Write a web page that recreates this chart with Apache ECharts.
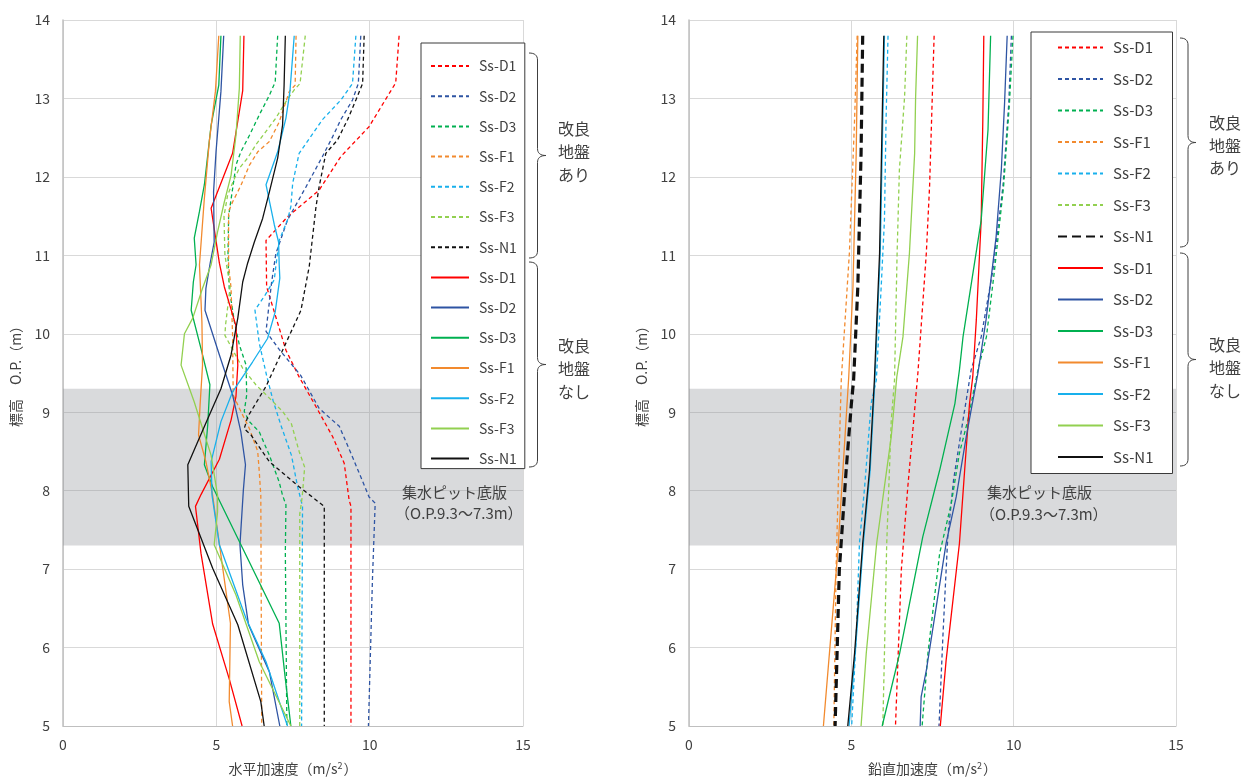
<!DOCTYPE html>
<html><head><meta charset="utf-8">
<script src="https://cdn.jsdelivr.net/npm/echarts/dist/echarts.min.js"></script>
<style>html,body{margin:0;padding:0;background:#fff}#c{width:1258px;height:780px}</style>
</head><body><div id="c"></div>
<script>
// ---------- axis ticks ----------
const xTicks = [0, 5, 10, 15];
const yTicks = [5, 6, 7, 8, 9, 10, 11, 12, 13, 14];
const bandRange = [9.3, 7.3]; // 集水ピット底版 O.P.

// ---------- 水平加速度 (left)  [acc, O.P.] ----------
// 改良地盤あり (dashed)
const hD1a = [[10.96,13.8],[10.85,13.2],[9.98,12.64],[9.06,12.26],[8.35,11.83],[7.32,11.49],[6.62,11.19],[6.64,10.6],[7.27,9.79],[7.70,9.45],[8.25,9.07],[8.79,8.69],[9.17,8.35],[9.33,7.88],[9.39,7.8],[9.39,5.0]];
const hD2a = [[9.71,13.8],[9.63,13.19],[9.44,12.98],[9.06,12.73],[8.79,12.51],[8.46,12.26],[7.92,11.87],[7.32,11.45],[6.94,11.02],[6.80,10.65],[6.62,10.03],[7.05,9.8],[7.75,9.47],[8.35,9.05],[9.01,8.82],[9.44,8.43],[9.98,7.92],[10.18,7.84],[10.09,6.86],[9.96,5.0]];
const hD3a = [[7.00,13.8],[6.92,13.21],[6.73,13.04],[6.40,12.79],[6.08,12.53],[5.80,12.32],[5.64,12.15],[5.55,11.9],[5.40,11.5],[5.38,11.0],[5.42,10.58],[5.59,10.15],[5.75,9.86],[5.97,9.6],[5.99,9.22],[5.91,9.01],[6.08,8.88],[6.40,8.75],[6.73,8.45],[7.05,8.11],[7.16,7.94],[7.27,7.82],[7.25,7.22],[7.30,5.0]];
const hF1a = [[7.60,13.8],[7.57,13.17],[7.38,13.09],[7.05,12.70],[6.73,12.45],[6.35,12.32],[6.08,12.15],[5.80,11.89],[5.53,11.68],[5.40,11.56],[5.40,10.88],[5.48,10.58],[5.53,9.98],[5.55,9.22],[5.75,9.05],[6.08,8.79],[6.35,8.50],[6.40,8.24],[6.45,7.94],[6.48,5.0]];
const hF2a = [[9.55,13.8],[9.44,13.19],[9.06,12.98],[8.46,12.73],[7.70,12.30],[7.49,11.92],[7.43,11.62],[7.32,11.45],[7.05,11.19],[6.94,10.86],[6.89,10.69],[6.60,10.5],[6.26,10.30],[6.40,9.88],[6.65,9.45],[6.85,9.15],[7.10,8.84],[7.45,8.45],[7.65,8.05],[7.76,7.88],[7.81,7.80],[7.78,5.0]];
const hF3a = [[7.90,13.8],[7.73,13.19],[7.54,13.11],[7.27,12.96],[6.94,12.75],[6.62,12.58],[6.29,12.41],[6.02,12.24],[5.75,12.11],[5.59,11.98],[5.37,11.77],[5.25,11.5],[5.28,11.0],[5.45,10.6],[5.30,10.11],[5.28,9.98],[5.86,9.56],[6.29,9.35],[6.73,9.18],[7.16,9.01],[7.45,8.85],[7.70,8.5],[7.88,8.3],[7.80,7.92],[7.72,7.7],[7.72,5.0]];
const hN1a = [[9.82,13.8],[9.77,13.19],[9.55,12.98],[9.28,12.73],[8.95,12.47],[8.57,12.30],[8.35,11.87],[8.25,11.62],[8.03,10.86],[7.76,10.30],[7.22,9.84],[6.62,9.33],[6.02,8.94],[5.91,8.79],[6.13,8.71],[6.73,8.37],[7.70,8.05],[8.19,7.9],[8.52,7.8],[8.52,5.0]];
// 改良地盤なし (solid)
const hD1n = [[5.90,13.8],[5.86,13.1],[5.53,12.3],[4.83,11.6],[5.10,10.9],[5.26,10.6],[5.64,10.1],[5.70,9.6],[5.64,9.2],[5.48,8.9],[5.10,8.4],[4.50,7.95],[4.32,7.8],[4.50,7.2],[4.88,6.3],[5.42,5.6],[5.84,5.0]];
const hD2n = [[5.24,13.8],[5.15,13.09],[4.99,12.32],[4.91,11.81],[4.93,11.17],[4.80,10.9],[4.66,10.58],[4.63,10.30],[5.10,9.73],[5.53,9.22],[5.80,8.75],[5.95,8.33],[5.88,8.0],[5.77,7.31],[5.86,6.8],[6.05,6.29],[6.73,5.69],[7.07,5.0]];
const hD3n = [[5.15,13.8],[5.08,13.17],[4.83,12.66],[4.61,11.90],[4.45,11.56],[4.28,11.22],[4.34,10.88],[4.25,10.66],[4.18,10.30],[4.50,9.81],[4.79,9.35],[4.72,8.84],[4.61,8.33],[4.88,8.05],[7.05,6.31],[7.25,5.6],[7.43,5.0]];
const hF1n = [[5.08,13.8],[4.97,13.09],[4.77,12.45],[4.61,11.73],[4.45,10.88],[4.53,10.15],[4.55,9.6],[4.47,9.09],[4.42,8.71],[4.66,8.37],[4.88,7.94],[5.0,7.6],[5.21,7.01],[5.46,6.31],[5.42,5.31],[5.53,5.0]];
const hF2n = [[7.54,13.8],[7.40,13.09],[7.27,12.75],[7.00,12.32],[6.62,11.9],[6.89,11.39],[7.03,11.17],[7.05,10.88],[7.07,10.71],[6.92,10.28],[6.67,9.94],[6.18,9.64],[5.53,9.26],[5.15,8.88],[4.83,8.37],[4.86,7.94],[5.10,7.31],[5.97,6.37],[6.62,5.82],[7.32,5.0]];
const hF3n = [[5.78,13.8],[5.75,13.13],[5.64,12.53],[5.48,12.02],[5.26,11.68],[5.04,11.30],[4.83,10.88],[4.55,10.58],[4.23,10.20],[3.96,10.0],[3.85,9.60],[4.28,9.13],[4.83,8.45],[5.04,7.94],[5.04,7.73],[4.93,7.31],[5.64,6.67],[6.40,5.82],[7.43,5.0]];
const hN1n = [[7.25,13.8],[7.21,13.17],[7.16,12.66],[7.0,12.24],[6.73,11.81],[6.51,11.47],[6.24,11.17],[6.02,10.9],[5.86,10.66],[5.70,10.20],[5.48,9.73],[5.15,9.30],[4.77,8.96],[4.39,8.62],[4.07,8.33],[4.10,7.80],[4.88,7.01],[5.70,6.29],[6.45,5.31],[6.56,5.0]];

// ---------- 鉛直加速度 (right) ----------
const vD1a = [[7.55,13.8],[7.41,11.88],[7.31,11.03],[7.05,9.5],[6.74,8.05],[6.54,6.99],[6.36,5.0]];
const vD2a = [[9.93,13.8],[9.85,12.94],[9.67,11.88],[9.36,10.81],[9.0,9.96],[8.69,9.54],[8.44,8.9],[8.15,8.14],[7.97,7.41],[7.82,6.14],[7.70,5.0]];
const vD3a = [[9.98,13.8],[9.87,12.94],[9.69,11.88],[9.41,10.81],[9.16,9.96],[8.9,9.54],[8.59,8.9],[8.33,8.48],[8.08,7.84],[7.72,7.2],[7.36,5.93],[7.18,5.0]];
const vF1a = [[5.18,13.8],[5.10,12.73],[4.94,11.03],[4.69,9.41],[4.61,8.26],[4.53,6.99],[4.46,5.0]];
const vF2a = [[6.13,13.8],[6.07,12.73],[6.02,11.45],[5.92,10.6],[5.77,9.41],[5.61,9.11],[5.41,8.05],[5.25,7.33],[5.15,6.14],[5.01,5.0]];
const vF3a = [[6.71,13.8],[6.64,13.02],[6.48,12.09],[6.41,11.03],[6.33,9.41],[6.23,8.9],[6.09,7.33],[6.02,5.93],[5.97,5.0]];
const vN1a = [[5.35,13.8],[5.30,12.30],[5.20,10.60],[5.07,9.41],[5.0,9.1],[4.84,8.26],[4.63,6.99],[4.50,5.0]];
const vD1n = [[9.08,13.8],[9.05,12.73],[9.0,11.45],[8.85,10.18],[8.74,9.45],[8.64,9.11],[8.49,8.26],[8.33,7.33],[7.92,5.84],[7.74,5.0]];
const vD2n = [[9.80,13.8],[9.72,12.94],[9.62,12.09],[9.46,11.24],[9.15,10.18],[8.9,9.5],[8.54,8.69],[8.23,7.92],[7.92,7.33],[7.31,5.71],[7.15,5.37],[7.12,5.0]];
const vD3n = [[9.29,13.8],[9.21,12.6],[9.0,11.45],[8.44,9.96],[8.33,9.54],[8.19,9.11],[7.72,8.26],[7.2,7.41],[6.49,5.93],[5.95,5.0]];
const vF1n = [[5.2,13.8],[5.15,12.3],[5.05,10.6],[4.92,9.45],[4.74,8.26],[4.58,7.2],[4.14,5.0]];
const vF2n = [[6.02,13.8],[5.97,12.73],[5.89,11.03],[5.73,9.45],[5.58,8.26],[5.37,7.33],[5.12,5.93],[4.93,5.0]];
const vF3n = [[7.04,13.8],[6.98,13.02],[6.95,12.30],[6.79,11.03],[6.59,9.96],[6.40,9.45],[6.23,8.69],[5.78,7.33],[5.46,5.93],[5.30,5.0]];
const vN1n = [[6.0,13.8],[5.95,12.73],[5.87,11.03],[5.71,9.41],[5.56,8.26],[5.35,7.33],[5.10,5.93],[4.89,5.0]];

const waveNames = ['Ss-D1','Ss-D2','Ss-D3','Ss-F1','Ss-F2','Ss-F3','Ss-N1'];
const waveColors = ['#ff0000','#2e54a3','#00b050','#f28a2e','#18b0ec','#92d050','#111111'];

const leftA = [hD1a,hD2a,hD3a,hF1a,hF2a,hF3a,hN1a];
const leftN = [hD1n,hD2n,hD3n,hF1n,hF2n,hF3n,hN1n];
const rightA = [vD1a,vD2a,vD3a,vF1a,vF2a,vF3a,vN1a];
const rightN = [vD1n,vD2n,vD3n,vF1n,vF2n,vF3n,vN1n];

const FONT = '"Noto Sans CJK JP","Noto Sans",sans-serif';
const TXT = '#404040';

function mkSeries(prefix, arrs, dashed, gi) {
  return arrs.map((d, i) => {
    const isThick = dashed && gi === 1 && i === 6;
    const color = waveColors[i];
    return {
      name: prefix + waveNames[i], type: 'line', xAxisIndex: gi, yAxisIndex: gi,
      data: d, symbol: 'none', showSymbol: false, animation: false, silent: true,
      z: dashed ? 3 : 4,
      lineStyle: { color, width: isThick ? 3.2 : 1.3, type: dashed ? (isThick ? [9, 5] : [4, 3]) : 'solid' },
      itemStyle: { color }
    };
  });
}

const series = [].concat(
  mkSeries('La', leftA, true, 0), mkSeries('Ln', leftN, false, 0),
  mkSeries('Ra', rightA, true, 1), mkSeries('Rn', rightN, false, 1)
);
[0, 1].forEach(gi => {
  series.push({
    type: 'line', xAxisIndex: gi, yAxisIndex: gi, data: [], silent: true, z: 1,
    markArea: { silent: true, itemStyle: { color: 'rgba(140,143,150,0.33)' },
      data: [[{ xAxis: xTicks[0], yAxis: bandRange[0] }, { xAxis: xTicks[xTicks.length-1], yAxis: bandRange[1] }]] }
  });
});

function xAxisCfg(gi, name) {
  return {
    gridIndex: gi, type: 'value', min: xTicks[0], max: xTicks[xTicks.length-1], interval: 5,
    name, nameLocation: 'middle', nameGap: 35,
    nameTextStyle: { fontFamily: FONT, fontSize: 14, color: TXT, rich: { sup: { fontFamily: FONT, fontSize: 9, color: TXT, verticalAlign: 'top', padding: [0, 1, 6, 0] } } },
    axisLine: { show: true, lineStyle: { color: '#bfbfbf', width: 1 } },
    axisTick: { show: false },
    axisLabel: { fontFamily: FONT, fontSize: 14, color: TXT, margin: 12 },
    splitLine: { show: true, lineStyle: { color: '#d9d9d9', width: 1 } }
  };
}
function yAxisCfg(gi) {
  return {
    gridIndex: gi, type: 'value', min: yTicks[0], max: yTicks[yTicks.length-1], interval: 1,
    name: '標高　O.P.（m）', nameLocation: 'middle', nameGap: 40, nameRotate: 90,
    nameTextStyle: { fontFamily: FONT, fontSize: 14, color: TXT },
    axisLine: { show: true, lineStyle: { color: '#bfbfbf', width: 1.5 } },
    axisTick: { show: false },
    axisLabel: { fontFamily: FONT, fontSize: 14, color: TXT, margin: 13 },
    splitLine: { show: true, lineStyle: { color: '#d9d9d9', width: 1 } }
  };
}
function legendCfg(prefix, left, top, padding, itemWidth, gap, fs) {
  const data = [];
  waveNames.forEach(n => data.push(prefix + 'a' + n));
  waveNames.forEach(n => data.push(prefix + 'n' + n));
  return {
    data, orient: 'vertical', left, top, padding, itemWidth, itemHeight: 14, itemGap: gap,
    backgroundColor: '#fff', borderColor: '#3a3a3a', borderWidth: 1,
    formatter: n => n.slice(2), selectedMode: false,
    itemStyle: { opacity: 0 },
    textStyle: { fontFamily: FONT, fontSize: fs, color: TXT, lineHeight: 14, padding: [0, 0, 0, 5] }
  };
}
// curly brace as polyline points
function bracePts(x, y1, y2, w) {
  const xm = x + w / 2, ym = (y1 + y2) / 2, r = 7;
  const pts = [];
  const quad = (p0, p1, p2) => { for (let t = 0; t <= 1.0001; t += 0.125) { const a = (1-t)*(1-t), b = 2*(1-t)*t, c = t*t; pts.push([a*p0[0]+b*p1[0]+c*p2[0], a*p0[1]+b*p1[1]+c*p2[1]]); } };
  quad([x, y1], [xm, y1], [xm, y1 + r]);
  quad([xm, ym - r], [xm, ym], [x + w, ym]);
  quad([x + w, ym], [xm, ym], [xm, ym + r]);
  quad([xm, y2 - r], [xm, y2], [x, y2]);
  return pts;
}
function braceEl(x, y1, y2, w) {
  return { type: 'polyline', z: 100, silent: true, shape: { points: bracePts(x, y1, y2, w) }, style: { fill: null, stroke: '#404040', lineWidth: 1 } };
}
function txt(text, x, y, fs, align) {
  return { type: 'text', z: 100, silent: true, style: { text, x, y, font: `${fs}px ${FONT}`, fill: TXT, textAlign: align || 'left', textVerticalAlign: 'middle' } };
}

const graphic = [
  braceEl(529, 53, 258, 17), braceEl(529, 262, 467, 17),
  braceEl(1180, 38, 247, 16), braceEl(1180, 253, 466, 16),
  txt('改良', 574, 129, 16, 'center'), txt('地盤', 574, 152, 16, 'center'), txt('あり', 574, 175, 16, 'center'),
  txt('改良', 574, 346, 16, 'center'), txt('地盤', 574, 369, 16, 'center'), txt('なし', 574, 392, 16, 'center'),
  txt('改良', 1225, 123, 16, 'center'), txt('地盤', 1225, 146, 16, 'center'), txt('あり', 1225, 168, 16, 'center'),
  txt('改良', 1225, 345, 16, 'center'), txt('地盤', 1225, 368, 16, 'center'), txt('なし', 1225, 391, 16, 'center'),
  txt('集水ピット底版', 402, 492, 15), txt('（O.P.9.3～7.3m）', 395, 513, 15),
  txt('集水ピット底版', 987, 492, 15), txt('（O.P.9.3～7.3m）', 980, 514, 15)
];

const chart = echarts.init(document.getElementById('c'), null, { renderer: 'canvas' });
chart.setOption({
  animation: false,
  backgroundColor: '#fff',
  grid: [
    { left: 63, top: 20, width: 460, height: 706, containLabel: false, outerBoundsMode: 'none' },
    { left: 689, top: 20, width: 487, height: 706, containLabel: false, outerBoundsMode: 'none' }
  ],
  xAxis: [xAxisCfg(0, '水平加速度（m/s{sup|2}）'), xAxisCfg(1, '鉛直加速度（m/s{sup|2}）')],
  yAxis: [yAxisCfg(0), yAxisCfg(1)],
  legend: [
    legendCfg('L', 421, 43, [16, 8, 3, 9], 38, 16.2, 14),
    legendCfg('R', 1031, 32, [8, 19, 9, 26], 45, 16.5, 15)
  ],
  series,
  graphic
});
</script></body></html>
